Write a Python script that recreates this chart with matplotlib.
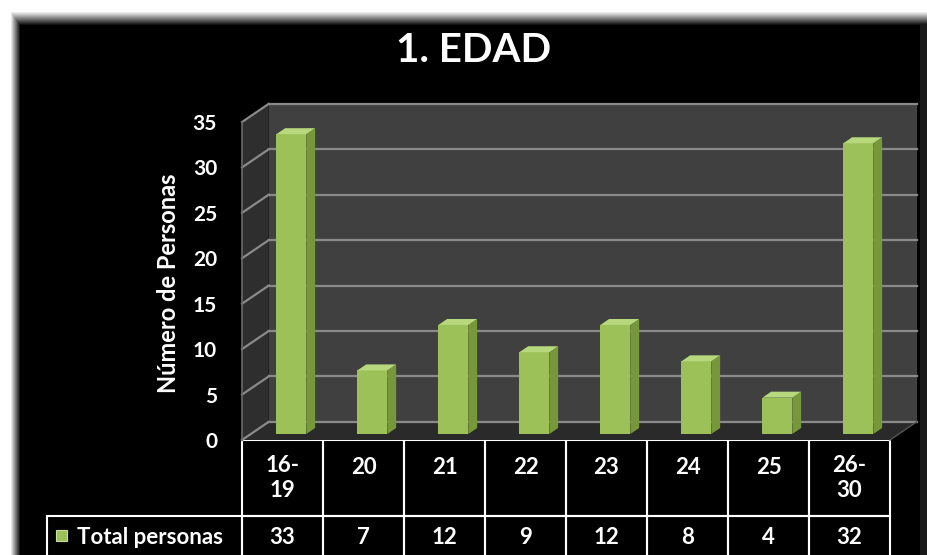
import numpy as np
import matplotlib.pyplot as plt
from matplotlib.patches import Polygon, Rectangle
from matplotlib.table import Table

plt.rcParams['font.family'] = ['Lato', 'DejaVu Sans']

categories = ['16-19', '20', '21', '22', '23', '24', '25', '26-30']
totals = [33, 7, 12, 9, 12, 8, 4, 32]
series_name = 'Total personas'
yticks = [0, 5, 10, 15, 20, 25, 30, 35]

W, H = 927, 555
fig = plt.figure(figsize=(W / 100, H / 100), dpi=100, facecolor='black')

# black card with the white shadowed border at top and left
bg = fig.add_axes([0, 0, 1, 1], zorder=-10)
yy, xx = np.mgrid[0:H, 0:W]
white = np.maximum(np.clip((25 - yy) / 14, 0, 1), np.clip((20 - xx) / 10, 0, 1))
white[:, 920:] = np.maximum(white[:, 920:], 0.1)
bg.imshow(np.dstack([white] * 3), extent=[0, W, H, 0], aspect='auto')
bg.axis('off')

# plot area = front plane of the 3d box
ax = fig.add_axes([242 / W, (H - 440) / H, 648 / W, 318 / H])
ax.set_xlim(-0.5, 7.5)
ax.set_ylim(0, 35)
ax.patch.set_visible(False)
for s in ax.spines.values():
    s.set_visible(False)

dx, dy = 0.33, 2.0          # depth of the box in data units
x0, x1, ymax = -0.5, 7.5, yticks[-1]
grid_c = '#8a8a8a'

ax.add_patch(Polygon([(x0 + dx, dy), (x1 + dx, dy), (x1 + dx, ymax + dy), (x0 + dx, ymax + dy)],
                     fc='#404040', ec='none', clip_on=False, zorder=0))
ax.add_patch(Polygon([(x0, 0), (x0 + dx, dy), (x0 + dx, ymax + dy), (x0, ymax)],
                     fc='#2e2e2e', ec='none', clip_on=False, zorder=0))
ax.add_patch(Polygon([(x0, 0), (x1, 0), (x1 + dx, dy), (x0 + dx, dy)],
                     fc='#2a2a2a', ec='none', clip_on=False, zorder=0.5))
for v in yticks:
    ax.plot([x0 + dx, x1 + dx], [v + dy, v + dy], color=grid_c, lw=1.6, clip_on=False, zorder=1)
    ax.plot([x0, x0 + dx], [v, v + dy], color=grid_c, lw=1.6, clip_on=False, zorder=1)
ax.plot([x0, x0], [0, ymax], color='#6a6a6a', lw=1.2, clip_on=False, zorder=1)
ax.plot([x1, x1 + dx], [0, dy], color='#555555', lw=1.0, clip_on=False, zorder=1)

# 3d bars
d0, d1, bw = 0.33, 0.66, 0.37
front_c, side_c, top_c = '#9bc158', '#76983a', '#b7d87c'
xs = np.arange(len(categories))
ax.bar(xs + d0 * dx, totals, width=bw, bottom=d0 * dy, color=front_c, zorder=3)
for x, v in zip(xs, totals):
    xl = x + d0 * dx - bw / 2
    xr = x + d0 * dx + bw / 2
    ddx, ddy = (d1 - d0) * dx, (d1 - d0) * dy
    b = d0 * dy
    ax.add_patch(Polygon([(xr, b), (xr + ddx, b + ddy), (xr + ddx, b + ddy + v), (xr, b + v)],
                         fc=side_c, ec='none', zorder=3))
    ax.add_patch(Polygon([(xl, b + v), (xr, b + v), (xr + ddx, b + v + ddy), (xl + ddx, b + v + ddy)],
                         fc=top_c, ec='none', zorder=3))

ax.set_xticks([])
ax.set_yticks(yticks)
ax.tick_params(axis='y', length=0, pad=18, labelcolor='white', labelsize=15)
for lbl in ax.get_yticklabels():
    lbl.set_fontweight('bold')

fig.text(168 / W, 1 - 283 / H, 'Número de Personas', rotation=90, color='white',
         fontsize=17, fontweight='bold', ha='center', va='center')
fig.text(474 / W, 1 - 50 / H, '1. EDAD', color='white', fontsize=29,
         fontweight='bold', ha='center', va='center')

# data table under the plot
col_w, label_w, head_h, row_h = 81, 195, 76, 42
tbl = Table(ax, bbox=[0, -(head_h + row_h) / 318, 1, (head_h + row_h) / 318])
for j, c in enumerate(categories):
    cell = tbl.add_cell(0, j, width=col_w, height=head_h, text=c.replace('-', '-\n'),
                        loc='center', facecolor='none', edgecolor='white')
    if '-' not in c:
        cell.get_text().set_va('bottom')
    cell = tbl.add_cell(1, j, width=col_w, height=row_h, text=str(totals[j]),
                        loc='center', facecolor='none', edgecolor='white')
cell = tbl.add_cell(1, -1, width=label_w, height=row_h, text=series_name,
                    loc='left', facecolor='none', edgecolor='white')
cell.PAD = 30 / label_w
tbl.auto_set_font_size(False)
tbl.set_fontsize(16)
for cell in tbl.get_celld().values():
    cell.set_linewidth(1.5)
    cell.get_text().set_color('white')
    cell.get_text().set_fontweight('bold')
ax.add_table(tbl)

ax.add_patch(Rectangle((-(242 - 56) / 648, -(541 - 440) / 318), 11 / 648, 11 / 318,
                       transform=ax.transAxes, fc=front_c, ec='#c8e09a', lw=0.8, clip_on=False))

# first draw settles the table layout (row-label column throws off the first pass)
fig.canvas.draw()
fig.savefig('out.png', dpi=100, facecolor='black')
